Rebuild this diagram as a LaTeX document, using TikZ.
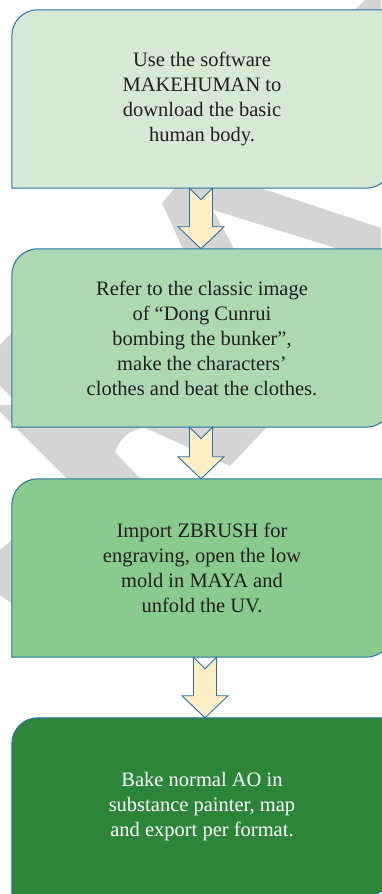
\documentclass[tikz,border=0pt]{standalone}
\usepackage{fontspec}
\setmainfont{Liberation Serif}
\usetikzlibrary{calc,backgrounds}

\definecolor{edgeblue}{HTML}{2971A3}
\definecolor{stepA}{HTML}{D6E9D5}
\definecolor{stepB}{HTML}{ACD9B1}
\definecolor{stepC}{HTML}{89CA8D}
\definecolor{stepD}{HTML}{2C8538}
\definecolor{arrowfill}{HTML}{FEEEC5}
\definecolor{markgray}{HTML}{D4D4D4}
\definecolor{inkdark}{HTML}{231F20}

\tikzset{
  stepbox/.style={minimum width=380pt, minimum height=178pt, inner sep=0pt,
    align=center, text=inkdark, font=\fontsize{20.5}{25}\selectfont},
  boxline/.style={draw=edgeblue, line width=1pt},
  flowarrow/.style={draw=edgeblue, fill=arrowfill, line width=0.9pt, line join=miter}
}

% 只有左上角和右下角是圆角
\newcommand\stepoutline[2]{%
  \draw[boxline, fill=#2] (#1.south west) -- ([yshift=-26pt]#1.north west)
    arc[start angle=180, end angle=90, radius=26pt] -- (#1.north east)
    -- ([yshift=26pt]#1.south east)
    arc[start angle=0, end angle=-90, radius=26pt] -- cycle;}

% 空心箭头，尾部带缺口
\newcommand\flowstep[3]{%
  \draw[flowarrow] ($([xshift=#3]#1.south)+(-11.5,0)$) -- ($([xshift=#3]#1.south)+(0,-11.5)$)
    -- ($([xshift=#3]#1.south)+(11.5,0)$) -- ($([xshift=#3]#2.north)+(11.5,22)$)
    -- ($([xshift=#3]#2.north)+(23,22)$) -- ([xshift=#3]#2.north)
    -- ($([xshift=#3]#2.north)+(-23,22)$) -- ($([xshift=#3]#2.north)+(-11.5,22)$) -- cycle;}

\begin{document}
\begin{tikzpicture}[x=1pt, y=1pt]
  \useasboundingbox (0,0) rectangle (381,894);

  \node[stepbox] (make) at (202,795) {Use the software\\MAKEHUMAN to\\download the basic\\human body.};
  \node[stepbox] (cloth) at (202,556) {Refer to the classic image\\of “Dong Cunrui\\bombing the bunker”,\\make the characters’\\clothes and beat the clothes.};
  \node[stepbox] (sculpt) at (202,326) {Import ZBRUSH for\\engraving, open the low\\mold in MAYA and\\unfold the UV.};
  \node[stepbox, text=white] (bake) at (202,87) {Bake normal AO in\\substance painter, map\\and export per format.};

  \flowstep{make}{cloth}{-1pt}
  \flowstep{cloth}{sculpt}{-1pt}
  \flowstep{sculpt}{bake}{3pt}

  \begin{scope}[on background layer]
    % 背景水印
    \fill[markgray] (340,870) -- (365,894) -- (381,894) -- (381,870) -- cycle;
    \fill[markgray] (162,691) -- (182,714) -- (236,714) -- (381,666) -- (381,632)
      -- (213,684) -- (240,634) -- (188,634) -- cycle;
    \fill[markgray] (0,549) -- (14,564) -- (14,494) -- (0,508) -- cycle;
    \fill[markgray] (0,489) -- (0,482) -- (75,407) -- (148,407) -- (115,442)
      .. controls (122,460) and (135,467) .. (150,467) -- (150,489) -- cycle;
    \fill[markgray] (143,467) -- (230,428) -- (267,467) -- (270,474) -- (140,474) -- cycle;
    \fill[markgray] (0,344) -- (14,356) -- (14,289) -- (0,299) -- cycle;
    \stepoutline{make}{stepA}
    \stepoutline{cloth}{stepB}
    \stepoutline{sculpt}{stepC}
    \stepoutline{bake}{stepD}
  \end{scope}
\end{tikzpicture}
\end{document}
